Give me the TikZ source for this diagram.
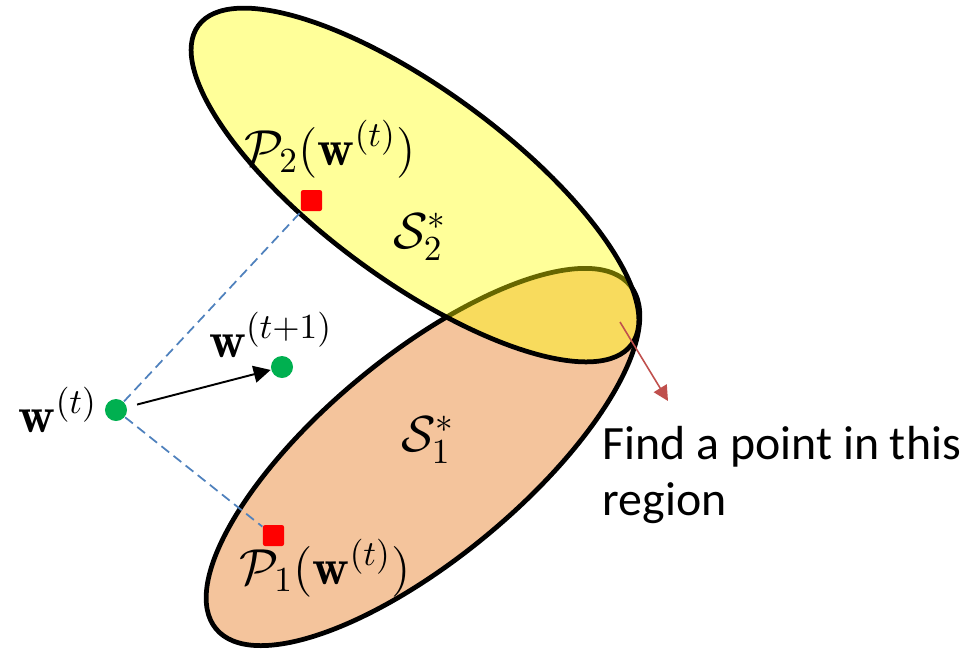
\documentclass[tikz,border=0pt]{standalone}
\usepackage{amsmath,amssymb}
\usepackage{fontspec}
\usepackage{tikz}
\usetikzlibrary{arrows.meta,positioning}
\newfontfamily\notefont{Carlito}
\definecolor{pjyellow}{HTML}{FFFF00}
\definecolor{pjorange}{HTML}{F4C49C}
\definecolor{pjgreen}{HTML}{00B050}
\definecolor{pjred}{HTML}{FF0000}
\definecolor{pjblue}{HTML}{4F81BD}
\definecolor{pjdarkred}{HTML}{C0504D}
\tikzset{
  pjset/.style={draw=black, line width=1.35pt},
  pjdot/.style={circle, fill=pjgreen, inner sep=0pt, minimum size=0.22cm},
  pjproj/.style={rectangle, fill=pjred, rounded corners=0.6pt, inner sep=0pt, minimum size=0.21cm},
  pjdash/.style={draw=pjblue, line width=0.5pt, dash pattern=on 2.8pt off 1.6pt},
  pjarrow/.style={-{Triangle[length=1.7mm, width=1.7mm]}, line width=0.55pt, draw=black},
  pjpointer/.style={-{Triangle[length=1.5mm, width=1.5mm]}, line width=0.45pt, draw=pjdarkred},
  pjlabel/.style={font=\fontsize{14.5}{17}\selectfont, inner sep=0pt},
  pjnote/.style={font=\notefont\fontsize{13.6}{15.9}\selectfont, align=left, inner sep=0pt}
}

\begin{document}
\begin{tikzpicture}[x=0.01cm, y=0.01cm]
  \useasboundingbox (0,0) rectangle (969,650);
  % the two sets, S2 on top and see-through
  \draw[pjset, fill=pjorange, rotate around={39.7:(423,193)}] (423,193) ellipse [x radius=269, y radius=101];
  \draw[pjset, fill=pjyellow, fill opacity=0.4, rotate around={-36.35:(415,465)}] (415,465) ellipse [x radius=269, y radius=95];
  \node[pjdot] (wt) at (116,240) {};
  \node[pjdot] (wn) at (282,283) {};
  \node[pjproj] (ptwo) at (311.5,449.5) {};
  \node[pjproj] (pone) at (273.5,114.5) {};
  \draw[pjdash] (wt) -- (ptwo);
  \draw[pjdash] (wt) -- (pone);
  \draw[pjarrow, shorten <=0.1cm] (wt) -- (wn);
  \node[pjlabel, left=0.06cm of wt] (lwt) {$\mathbf{w}^{(t)}$};
  \node[pjlabel] (lwn) at (271,315) {$\mathbf{w}^{(t+1)}$};
  \node[pjlabel] (lptwo) at (330,501) {$\mathcal{P}_2(\mathbf{w}^{(t)})$};
  \node[pjlabel] (lpone) at (325,82) {$\mathcal{P}_1(\mathbf{w}^{(t)})$};
  \node[pjlabel] (stwo) at (420,413) {$\mathcal{S}_2^*$};
  \node[pjlabel] (sone) at (428,210) {$\mathcal{S}_1^*$};
  \coordinate (reg) at (620,328);
  \coordinate (regtip) at (668,249);
  \draw[pjpointer] (reg) -- (regtip);
  \node[pjnote, anchor=north west] (note) at (602,224) {Find a point in this\\region};
\end{tikzpicture}
\end{document}
